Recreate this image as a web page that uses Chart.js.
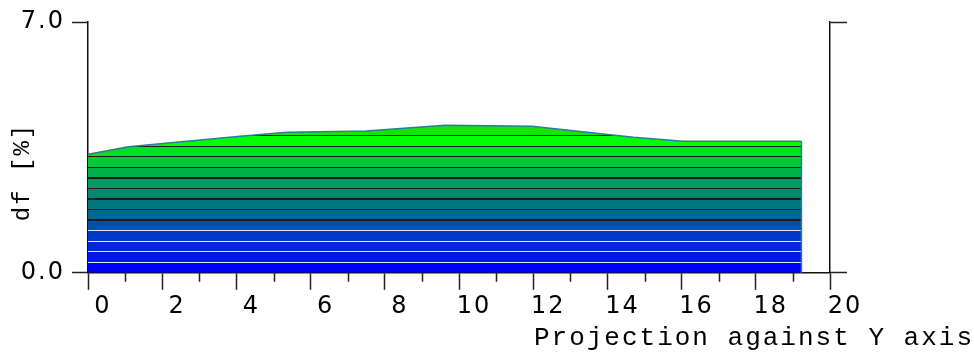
<!DOCTYPE html>
<html>
<head>
<meta charset="utf-8">
<script src="https://cdn.jsdelivr.net/npm/chart.js@4/dist/chart.umd.min.js"></script>
<style>
  html, body { margin: 0; padding: 0; background: #fff; }
  #wrap { width: 974px; height: 354px; }
</style>
</head>
<body>
<div id="wrap"><canvas id="proj-chart"></canvas></div>
<script>
// projection profile
const projX = [0, 1.09, 4.1, 5.36, 7.5, 9.62, 11.96, 14.7, 16.04, 18.18, 19.23];
const dfValues = [3.31, 3.52, 3.81, 3.92, 3.96, 4.12, 4.09, 3.78, 3.67, 3.67, 3.67];
const xTickLabels = ['0', '2', '4', '6', '8', '10', '12', '14', '16', '18', '20'];
const yTickLabels = ['0.0', '7.0'];

// band colours, bottom to top
const bandColors = ['#0000ff', '#0018e8', '#0028d8', '#0038c8', '#0050a8', '#006898', '#007880',
                    '#008870', '#009c64', '#00b048', '#00c838', '#00e020', '#00ff00', '#10e800'];
const outlineColor = '#2a7c98';

function bandFill(context) {
  const chart = context.chart;
  const area = chart.chartArea;
  if (!area) return bandColors[0];
  const y = chart.scales.y;
  const y0 = y.getPixelForValue(0);
  const span = y0 - area.top;
  const g = chart.ctx.createLinearGradient(0, y0, 0, area.top);
  const n = bandColors.length;
  const step = Math.max(...dfValues) / n;
  const h = 0.6 / span;
  const off = p => Math.min(1, Math.max(0, (y0 - p) / span));
  bandColors.forEach((c, k) => {
    const start = k === 0 ? 0 : off(y.getPixelForValue(k * step)) + h;
    const pu = off(y.getPixelForValue((k + 1) * step));
    const end = k === n - 1 ? 1 : pu - h;
    g.addColorStop(start, c);
    g.addColorStop(end, c);
    if (k < n - 1) {
      const lc = k < 4 ? '#e6e6ff' : '#1a1a1a';
      g.addColorStop(end, lc);
      g.addColorStop(Math.min(1, pu + h), lc);
    }
  });
  return g;
}

const extras = {
  id: 'extras',
  beforeLayout(chart) { chart.ctx.letterSpacing = '2px'; },
  beforeDraw(chart) { chart.ctx.letterSpacing = '2px'; },
  afterDatasetsDraw(chart) {
    const {ctx, scales: {x, y}} = chart;
    const last = projX.length - 1;
    const xr = x.getPixelForValue(projX[last]);
    ctx.save();
    ctx.strokeStyle = outlineColor;
    ctx.lineWidth = 1.5;
    ctx.beginPath();
    ctx.moveTo(xr, y.getPixelForValue(dfValues[last]));
    ctx.lineTo(xr, y.getPixelForValue(0));
    ctx.stroke();
    ctx.restore();
  },
  afterDraw(chart) {
    // minor ticks on the x axis
    const {ctx, scales: {x}} = chart;
    ctx.save();
    ctx.strokeStyle = '#222';
    ctx.lineWidth = 1.5;
    ctx.beginPath();
    for (let v = 1; v < 20; v += 2) {
      const px = Math.round(x.getPixelForValue(v)) + 0.5;
      ctx.moveTo(px, x.top);
      ctx.lineTo(px, x.top + 9);
    }
    ctx.stroke();
    ctx.restore();
  }
};

const ctx = document.getElementById('proj-chart').getContext('2d');

const data = {
  datasets: [{
    data: projX.map((v, i) => ({x: v, y: dfValues[i]})),
    fill: 'origin',
    backgroundColor: bandFill,
    borderColor: outlineColor,
    borderWidth: 1.5,
    pointRadius: 0,
    tension: 0
  }]
};

const config = {
  type: 'line',
  data: data,
  plugins: [extras],
  options: {
    responsive: true,
    maintainAspectRatio: false,
    animation: false,
    layout: { padding: { top: 22, left: 0, right: 0, bottom: 0 } },
    plugins: {
      legend: { display: false },
      tooltip: { enabled: false },
      title: {
        display: true,
        position: 'bottom',
        align: 'end',
        text: 'Projection against Y axis',
        color: '#000',
        font: { family: 'Liberation Mono', size: 26, weight: 'normal', lineHeight: 1.1 },
        padding: { top: 0, bottom: 2 }
      }
    },
    scales: {
      x: {
        type: 'linear',
        min: 0,
        max: 20,
        afterFit: s => { s.height = 50.6; },
        ticks: {
          stepSize: 2,
          autoSkip: false,
          maxRotation: 0,
          padding: 3,
          labelOffset: 15,
          color: '#000',
          font: { family: 'DejaVu Sans', size: 24 },
          callback: (v) => xTickLabels[v / 2]
        },
        grid: { drawOnChartArea: false, tickLength: 17, tickColor: '#222', tickWidth: 1.5 },
        border: { color: '#111', width: 1.5 }
      },
      y: {
        min: 0,
        max: 7,
        afterFit: s => { s.width = 88; },
        ticks: {
          stepSize: 7,
          padding: 7,
          color: '#000',
          font: { family: 'DejaVu Sans', size: 24 },
          callback: (v) => yTickLabels[v / 7]
        },
        grid: { drawOnChartArea: false, tickLength: 16, tickColor: '#222', tickWidth: 1.5 },
        border: { color: '#111', width: 1.5 },
        title: {
          display: true,
          text: 'df [%]   ',
          color: '#000',
          font: { family: 'Liberation Mono', size: 24 },
          padding: { top: 8, bottom: 0 }
        }
      },
      y2: {
        position: 'right',
        min: 0,
        max: 7,
        afterFit: s => { s.width = 144; },
        ticks: { stepSize: 7, display: false },
        grid: { drawOnChartArea: false, tickLength: 17, tickColor: '#222', tickWidth: 1.5 },
        border: { color: '#111', width: 1.5 }
      }
    }
  }
};

const projChart = new Chart(ctx, config);
</script>
</body>
</html>
